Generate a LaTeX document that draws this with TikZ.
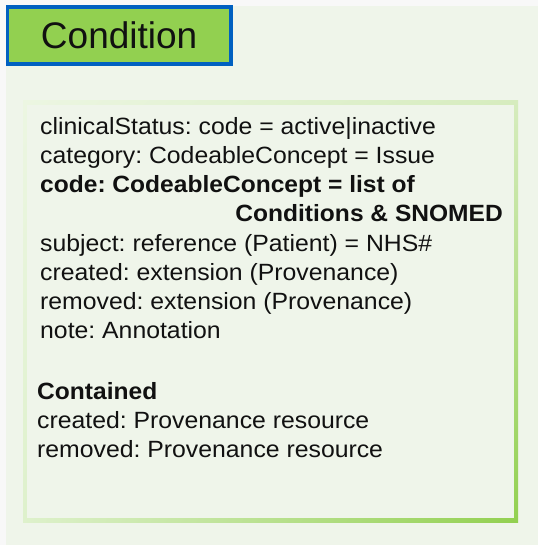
\documentclass[tikz,border=0pt]{standalone}
\usepackage{fontspec}
\setmainfont{Liberation Sans}
\newfontfamily\bodyfont{Liberation Sans}[FakeStretch=1.055,BoldFeatures={FakeStretch=1.045}]
\usetikzlibrary{shadings}
\frenchspacing
\definecolor{pagebg}{HTML}{F8F8F8}
\definecolor{panelbg}{HTML}{EFF5EA}
\definecolor{titlefill}{HTML}{92D050}
\definecolor{titleborder}{HTML}{0060C0}
\definecolor{textc}{HTML}{111111}
\definecolor{gul}{HTML}{ECF6E2}
\definecolor{gur}{HTML}{D6ECBE}
\definecolor{gll}{HTML}{DEF1CC}
\definecolor{glr}{HTML}{92D050}
\begin{document}
\begin{tikzpicture}[x=1pt,y=1pt,
  txt/.style={anchor=base west,inner sep=0pt,text=textc,font=\bodyfont\fontsize{23.5}{26}\selectfont},
  btxt/.style={txt,font=\bodyfont\fontsize{23.5}{26}\selectfont\bfseries}]
\useasboundingbox (0,0) rectangle (538,-545);
\fill[pagebg] (0,0) rectangle (538,-545);
\fill[panelbg] (6,-6) rectangle (538,-545);
% inner box with gradient border
\shade[upper left=gul,upper right=gur,lower left=gll,lower right=glr]
  (23,-101) rectangle (518,-522);
\fill[panelbg] (27,-105) rectangle (514,-518);
% title
\node[draw=titleborder,line width=3.8pt,fill=titlefill,minimum width=223.5pt,minimum height=57pt,
  inner sep=0pt,anchor=north west,font=\fontsize{37}{40}\selectfont,text=textc] (title) at (5.5,-5) {Condition};
% body
\node[txt] (l1) at (40,-135) {clinicalStatus: code = active|inactive};
\node[txt] (l2) at (40,-164) {category: CodeableConcept = Issue};
\node[btxt] (l3) at (40,-193) {code: CodeableConcept = list of};
\node[btxt,anchor=base east] (l4) at (503,-222) {Conditions \& SNOMED};
\node[txt] (l5) at (40,-251) {subject: reference (Patient) = NHS\#};
\node[txt] (l6) at (40,-280) {created: extension (Provenance)};
\node[txt] (l7) at (40,-309) {removed: extension (Provenance)};
\node[txt] (l8) at (40,-338) {note: Annotation};
\node[btxt] (c0) at (37,-399) {Contained};
\node[txt] (c1) at (37,-428) {created: Provenance resource};
\node[txt] (c2) at (37,-457) {removed: Provenance resource};
\end{tikzpicture}
\end{document}
